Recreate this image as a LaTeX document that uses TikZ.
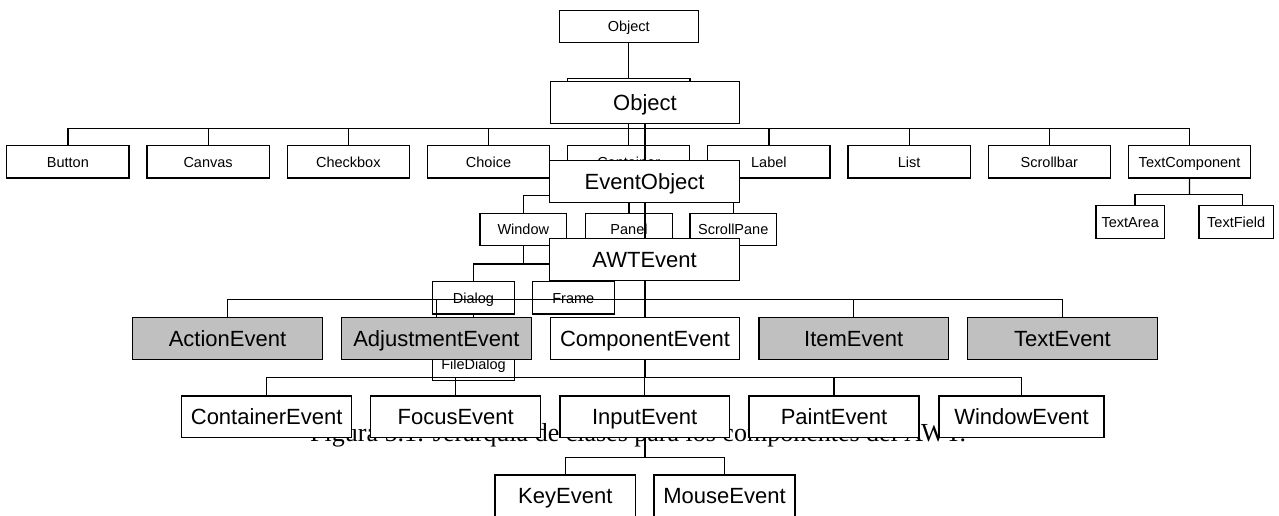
\documentclass[tikz,border=0pt]{standalone}
\usepackage{fontspec}
\newfontfamily\sansf{Liberation Sans}
\newfontfamily\seriff{Liberation Serif}
\definecolor{boxgrey}{HTML}{C0C0C0}
\tikzset{
  cls/.style={draw=black, fill=white, line width=1.2pt, inner sep=0pt, align=center},
  smallbox/.style={cls, minimum width=122.3pt, minimum height=32.3pt, text height=10.4pt, text depth=0pt, font={\sansf\fontsize{14.5}{17}\selectfont}},
  bigbox/.style={cls, minimum width=189.6pt, minimum height=41.7pt, text height=15.8pt, text depth=0pt, font={\sansf\fontsize{22}{26}\selectfont}},
  greybox/.style={bigbox, fill=boxgrey},
  conn/.style={draw=black, line width=1.2pt, line cap=rect}
}
\begin{document}
\begin{tikzpicture}[x=1pt,y=-1pt]
\useasboundingbox (0,0) rectangle (1279,515);
% caption (behind everything)
\node[anchor=base west, inner sep=0pt, font={\seriff\fontsize{26}{30}\selectfont}] (cap) at (310,441.7) {Figura 5.1: Jerarquía de clases para los componentes del AWT.};

% ---------- first diagram (small) ----------
\node[smallbox, minimum width=139pt] (o1) at (628.8,26.3) {Object};
\node[smallbox] (comp) at (628.8,94.85) {};
\foreach \n/\t [count=\k from 0] in {button/Button,canvas/Canvas,checkbox/Checkbox,choice/Choice,container/Container,label/Label,list/List,scrollbar/Scrollbar,tcomp/TextComponent}
  \node[smallbox] (\n) at ({67.9+140.2*\k},161.85) {\t};
\node[smallbox, minimum width=86.7pt] (window) at (523.3,229.5) {Window};
\node[smallbox, minimum width=86.7pt] (panel) at (629,229.5) {Panel};
\node[smallbox, minimum width=86.7pt] (scrollpane) at (733.3,229.5) {ScrollPane};
\node[smallbox, minimum width=81.6pt] (dialog) at (473.5,297.85) {Dialog};
\node[smallbox, minimum width=81.6pt] (frame) at (573.3,297.85) {Frame};
\node[smallbox, minimum width=81.6pt] (filedialog) at (473.5,364.55) {FileDialog};
\node[smallbox, minimum width=68.3pt, minimum height=32.6pt] (tarea) at (1130.2,222) {TextArea};
\node[smallbox, minimum width=74.3pt, minimum height=32.6pt] (tfield) at (1236.2,222) {TextField};

\draw[conn] (o1.south) -- (comp.north);
\coordinate (bus1) at (628.8,128.3);
\draw[conn] (comp.south) -- (bus1);
\draw[conn] (bus1 -| button) -- (bus1 -| tcomp);
\foreach \n in {button,canvas,checkbox,choice,container,label,list,scrollbar,tcomp}
  \draw[conn] (bus1 -| \n) -- (\n.north);
\coordinate (bus2) at (628.8,195.7);
\draw[conn] (container.south) -- (bus2);
\draw[conn] (window.north) |- (bus2) -| (scrollpane.north);
\draw[conn] (bus2 -| panel) -- (panel.north);
\coordinate (bus7) at (523.3,264);
\draw[conn] (window.south) -- (bus7);
\draw[conn] (dialog.north) |- (bus7) -| (frame.north);
\draw[conn] (dialog.south) -- (filedialog.north);
\coordinate (bus6) at (1189.5,194.3);
\draw[conn] (tcomp.south) -- (bus6);
\draw[conn] ([xshift=4.8pt]tarea.north) |- (bus6) -| ([xshift=6.5pt]tfield.north);

% ---------- second diagram (big) ----------
\coordinate (bus3) at (645,299.3);
\coordinate (bus4) at (645,377.7);
\coordinate (bus5) at (645,457.3);
\node[bigbox] (obj2) at (645,102.5) {Object};
\node[bigbox] (evobj) at (644.65,181.5) {EventObject};
\node[bigbox] (awt) at (644.65,259.65) {AWTEvent};
\node[greybox] (action) at (227.5,338.3) {ActionEvent};
\node[greybox] (adjust) at (436.4,338.3) {AdjustmentEvent};
\node[bigbox] (compev) at (645,338.3) {ComponentEvent};
\node[greybox] (item) at (853.7,338.3) {ItemEvent};
\node[greybox] (textev) at (1062.5,338.3) {TextEvent};
\node[bigbox, minimum width=170pt] (contev) at (266.7,416.85) {ContainerEvent};
\node[bigbox, minimum width=170pt] (focus) at (455.7,416.85) {FocusEvent};
\node[bigbox, minimum width=169.3pt] (input) at (644.7,416.85) {InputEvent};
\node[bigbox, minimum width=170pt] (paint) at (834,416.85) {PaintEvent};
\node[bigbox, minimum width=165pt] (winev) at (1021.5,416.85) {WindowEvent};
\node[bigbox, minimum width=140.7pt] (key) at (565.3,495.85) {KeyEvent};
\node[bigbox, minimum width=141pt] (mouse) at (724.5,495.85) {MouseEvent};

\draw[conn] (obj2.south -| 645,0) -- (evobj.north -| 645,0);
\draw[conn] (evobj.south -| 645,0) -- (awt.north -| 645,0);
\draw[conn] (awt.south -| 645,0) -- (bus3);
\draw[conn] (bus3 -| action) -- (bus3 -| textev);
\foreach \n in {action,adjust,compev,item,textev}
  \draw[conn] (bus3 -| \n) -- (\n.north);
\draw[conn] (compev.south) -- (bus4);
\draw[conn] (bus4 -| contev) -- (bus4 -| winev);
\foreach \n in {contev,focus,input,paint,winev}
  \draw[conn] (bus4 -| \n) -- (\n.north);
\draw[conn] (input.south -| 645,0) -- (bus5);
\draw[conn] (key.north) |- (bus5) -| (mouse.north);
\end{tikzpicture}
\end{document}
